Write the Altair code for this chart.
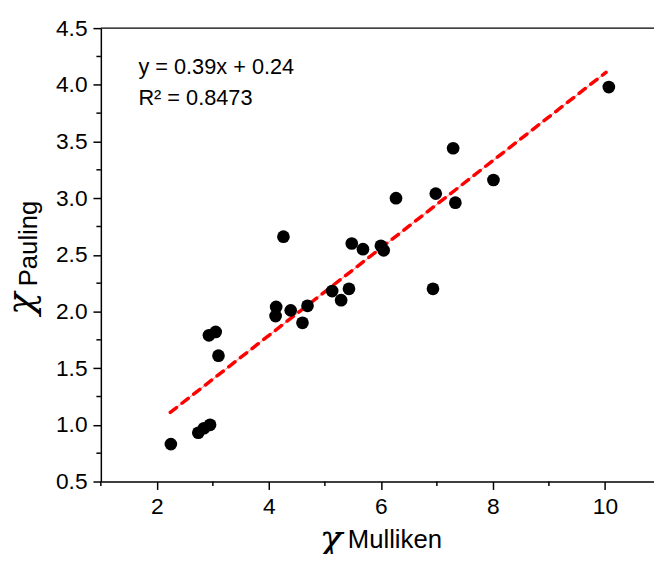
import altair as alt
import pandas as pd

# Data
x_mulliken = [2.25, 2.74, 2.84, 2.95, 2.93, 3.05, 3.10, 4.13, 4.12, 4.39, 4.69, 4.60, 4.26,
              5.13, 5.29, 5.43, 5.48, 5.68, 6.00, 6.05, 6.27, 6.98, 7.33, 7.29, 8.01, 6.93, 10.07]
y_pauling = [0.83, 0.93, 0.97, 1.00, 1.79, 1.82, 1.61, 2.04, 1.96, 2.01, 2.05, 1.90, 2.66,
             2.18, 2.10, 2.20, 2.60, 2.55, 2.58, 2.54, 3.00, 3.04, 2.96, 3.44, 3.16, 2.20, 3.98]

fit_x = [2.24, 10.02]
fit_y = [1.11, 4.11]

x_major = [2, 4, 6, 8, 10]
x_minor = [1, 3, 5, 7, 9]
y_major = [0.5, 1.0, 1.5, 2.0, 2.5, 3.0, 3.5, 4.0, 4.5]
y_minor = [0.75, 1.25, 1.75, 2.25, 2.75, 3.25, 3.75, 4.25]

eq_text = "y = 0.39x + 0.24"
r2_text = "R\u00b2 = 0.8473"

W, H = 560, 459
X_DOMAIN = [1, 1 + W / 56.7]
Y_DOMAIN = [0.5, 4.5]

pts = pd.DataFrame({"x": x_mulliken, "y": y_pauling})
fit = pd.DataFrame({"x": fit_x, "y": fit_y})
xm = pd.DataFrame({"x": x_minor})
ym = pd.DataFrame({"y": y_minor})
one = pd.DataFrame({"a": [0]})

xs = alt.Scale(domain=X_DOMAIN, nice=False, zero=False)
ys = alt.Scale(domain=Y_DOMAIN, nice=False, zero=False)

FONT = "Liberation Sans"
CHI_FONT = "DejaVu Serif"

xaxis = alt.Axis(values=x_major, format="d", title=None, grid=False, labelFontSize=23,
                 labelFont=FONT, labelColor="black", tickSize=8, tickWidth=1.5,
                 tickColor="black", domainColor="black", domainWidth=1.5, labelPadding=6,
                 labelFlush=False)
yaxis = alt.Axis(values=y_major, format=".1f", title=None, grid=False, labelFontSize=23,
                 labelFont=FONT, labelColor="black", tickSize=8, tickWidth=1.5,
                 tickColor="black", domainColor="black", domainWidth=1.5, labelPadding=6,
                 labelFlush=False)

points = alt.Chart(pts).mark_circle(size=165, color="black", opacity=1).encode(
    x=alt.X("x:Q", scale=xs, axis=xaxis),
    y=alt.Y("y:Q", scale=ys, axis=yaxis),
)

fit_thin = alt.Chart(fit).mark_line(color="#ff0000", strokeWidth=1, opacity=0.45).encode(
    x=alt.X("x:Q", scale=xs), y=alt.Y("y:Q", scale=ys))
fit_dash = alt.Chart(fit).mark_line(color="#ff0000", strokeWidth=3.5,
                                    strokeDash=[8, 7], strokeCap="round").encode(
    x=alt.X("x:Q", scale=xs), y=alt.Y("y:Q", scale=ys))

xminor = alt.Chart(xm).mark_rule(color="black", strokeWidth=1.5).encode(
    x=alt.X("x:Q", scale=xs), y=alt.value(H), y2=alt.value(H + 4.5))
yminor = alt.Chart(ym).mark_rule(color="black", strokeWidth=1.5).encode(
    y=alt.Y("y:Q", scale=ys), x=alt.value(0), x2=alt.value(-4.5))

top_frame = alt.Chart(one).mark_rule(color="black", strokeWidth=1.5).encode(
    x=alt.value(0), x2=alt.value(W), y=alt.value(0))

eq = alt.Chart(one).mark_text(text=eq_text, font=FONT, fontSize=22, align="left",
                              baseline="alphabetic", color="black").encode(
    x=alt.value(38), y=alt.value(46))
r2 = alt.Chart(one).mark_text(text=r2_text, font=FONT, fontSize=22, align="left",
                              baseline="alphabetic", color="black").encode(
    x=alt.value(38), y=alt.value(78))

# Axis titles: chi with subscript
ychi = alt.Chart(one).mark_text(text="\u03c7", font=CHI_FONT, fontStyle="italic",
                                fontSize=38, angle=270, align="center", baseline="middle",
                                color="black").encode(x=alt.value(-80), y=alt.value(279))
ysub = alt.Chart(one).mark_text(text="Pauling", font=FONT, fontSize=26, angle=270,
                                align="center", baseline="middle", color="black").encode(
    x=alt.value(-73), y=alt.value(218))
xchi = alt.Chart(one).mark_text(text="\u03c7", font=CHI_FONT, fontStyle="italic",
                                fontSize=38, align="center", baseline="middle",
                                color="black").encode(x=alt.value(233), y=alt.value(518))
xsub = alt.Chart(one).mark_text(text="Mulliken", font=FONT, fontSize=26, align="left",
                                baseline="alphabetic", color="black").encode(
    x=alt.value(250), y=alt.value(526))

chart = alt.layer(
    top_frame, xminor, yminor, fit_thin, fit_dash, points, eq, r2, ychi, ysub, xchi, xsub
).properties(
    width=W, height=H,
    autosize=alt.AutoSizeParams(type="none"),
    padding={"left": 94, "top": 17, "right": 0, "bottom": 70},
).configure_view(stroke=None)

chart.save("out.html", embed_options={"renderer": "svg", "actions": False})
